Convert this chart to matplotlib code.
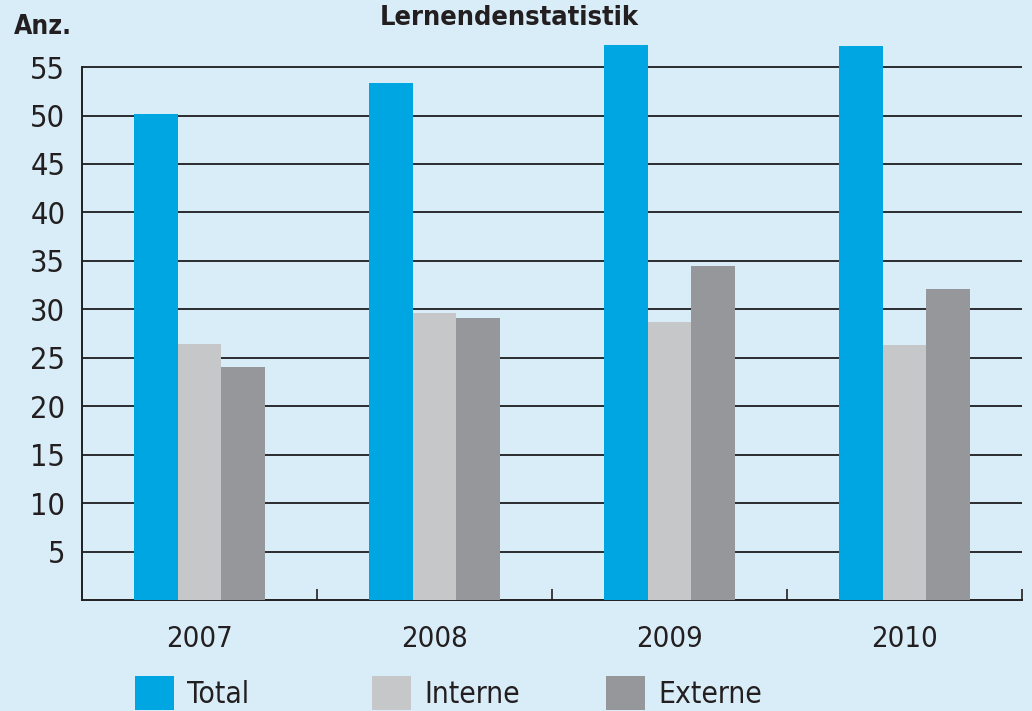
import numpy as np
import matplotlib.pyplot as plt
from matplotlib.patches import Patch

plt.rcParams['font.family'] = ['Liberation Sans Narrow', 'DejaVu Sans']
plt.rcParams['font.stretch'] = 'condensed'

years = ["2007", "2008", "2009", "2010"]
total = [50.2, 53.4, 57.3, 57.2]
interne = [26.4, 29.6, 28.7, 26.3]
externe = [24.0, 29.1, 34.5, 32.1]
series_names = ["Total", "Interne", "Externe"]
colors = ["#00a6e2", "#c6c7c9", "#96979b"]
bg = "#d9edf8"
ink = "#231f20"

W, H = 1032, 711
fig = plt.figure(figsize=(W / 100, H / 100), dpi=100, facecolor=bg)
ax = fig.add_axes([82 / W, (H - 600) / H, 940 / W, 562 / H])
ax.set_facecolor(bg)

x = np.arange(len(years))
w = 0.185
for i, (vals, c) in enumerate(zip([total, interne, externe], colors)):
    ax.bar(x + (i - 1) * w, vals, w, color=c, linewidth=0, zorder=3)

ax.set_xlim(-0.5, len(years) - 0.5)
ax.set_ylim(0, 58)
ax.set_yticks(np.arange(5, 56, 5))
ax.yaxis.grid(True, color="#2b2b2e", linewidth=1.4, zorder=1)
ax.set_axisbelow(True)

for s in ["top", "right"]:
    ax.spines[s].set_visible(False)
ax.spines["left"].set_bounds(0, 55)
for s in ["left", "bottom"]:
    ax.spines[s].set_color(ink)
    ax.spines[s].set_linewidth(1.4)

ax.set_xticks(x)
ax.set_xticklabels(years)
ax.set_xticks(np.arange(0.5, len(years), 1), minor=True)
ax.tick_params(axis="x", which="major", length=0, pad=18, labelsize=21, labelcolor=ink)
ax.tick_params(axis="x", which="minor", direction="in", length=8, width=1.2, color=ink)
ax.tick_params(axis="y", length=0, pad=12, labelsize=22, labelcolor=ink)

fig.text(509 / W, 1 - 18 / H, "Lernendenstatistik", ha="center", va="center",
         fontsize=19.5, fontweight="bold", color=ink)
fig.text(14 / W, 1 - 27 / H, "Anz.", ha="left", va="center",
         fontsize=19, fontweight="bold", color=ink)

# one legend per entry so the spacing matches the original
legend_x = [135, 372, 606]
for name, c, lx in zip(series_names, colors, legend_x):
    fig.legend(handles=[Patch(facecolor=c, edgecolor="none")], labels=[name],
               loc="center left", bbox_to_anchor=(lx / W, 1 - 693 / H),
               frameon=False, fontsize=21.5, handlelength=1.3, handleheight=1.35,
               handletextpad=0.45, borderpad=0, borderaxespad=0, labelcolor=ink)

fig.savefig("out.png", dpi=100, facecolor=bg)
